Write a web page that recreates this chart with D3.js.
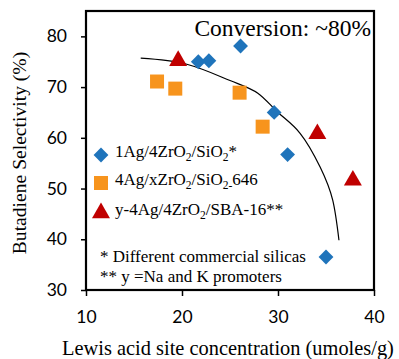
<!DOCTYPE html>
<html>
<head>
<meta charset="utf-8">
<script src="https://cdn.jsdelivr.net/npm/d3@7"></script>
<style>
  body { margin: 0; background: #fff; }
  svg { display: block; }
  .serif { font-family: 'Liberation Serif', 'Times New Roman', Times, 'DejaVu Serif', serif; }
  .tick text { font-family: Lato, 'Open Sans', sans-serif; }
</style>
</head>
<body>
<div id="chart"></div>
<script>
// series
const agZrSi = [ [21.7, 75.0], [22.8, 75.2], [26.1, 78.1], [29.6, 65.0], [31.0, 56.7], [35.0, 36.5] ]
const agXZr646 = [ [17.4, 71.1], [19.3, 69.7], [26.0, 68.9], [28.4, 62.2] ]
const agSba16 = [ [19.6, 75.2], [34.1, 60.8], [37.8, 51.6] ]
const trendLine = [ [15.7, 75.7], [20.5, 74.5], [25.0, 71.3], [27.9, 68.8], [30.0, 65.0], [32.3, 60.9], [34.4, 54.2], [35.7, 47.7], [36.35, 39.8] ]
const xTicks = [10, 20, 30, 40]
const yTicks = [30, 40, 50, 60, 70, 80]

const width = 399, height = 359
const margin = { left: 86, top: 11, right: 25, bottom: 69 }

const svg = d3.select('#chart').append('svg')
  .attr('width', width)
  .attr('height', height)

const x = d3.scaleLinear().domain([10, 40]).range([margin.left, width - margin.right])
const y = d3.scaleLinear().domain([30, 85]).range([height - margin.bottom, margin.top])

// axes
const xAxis = svg.append('g')
  .attr('transform', `translate(0,${y(30)})`)
  .call(d3.axisBottom(x).tickValues(xTicks).tickSize(6).tickPadding(15))
xAxis.select('.domain').remove()
xAxis.selectAll('line').attr('stroke', '#000').attr('stroke-width', 1.5)
xAxis.selectAll('text').attr('font-size', 17.5).attr('fill', '#000')

const yAxis = svg.append('g')
  .attr('transform', `translate(${x(10)},0)`)
  .call(d3.axisLeft(y).tickValues(yTicks).tickSize(5).tickPadding(14))
yAxis.select('.domain').remove()
yAxis.selectAll('line').attr('stroke', '#000').attr('stroke-width', 1.5)
yAxis.selectAll('text').attr('font-size', 17.5).attr('fill', '#000')

// frame
svg.append('rect')
  .attr('x', x(10)).attr('y', y(85))
  .attr('width', x(40) - x(10)).attr('height', y(30) - y(85))
  .attr('fill', 'none').attr('stroke', '#000').attr('stroke-width', 2.2)

// trend curve
svg.append('path')
  .datum(trendLine)
  .attr('d', d3.line().x(d => x(d[0])).y(d => y(d[1])).curve(d3.curveNatural))
  .attr('fill', 'none').attr('stroke', '#000').attr('stroke-width', 1.2)

const diamond = d3.symbol().type(d3.symbolSquare).size(110)
const square = d3.symbol().type(d3.symbolSquare).size(196)
const triangle = d3.symbol().type(d3.symbolTriangle).size(140)

function drawSeries(data, sym, color, rotate) {
  svg.append('g').selectAll('path')
    .data(data)
    .join('path')
      .attr('d', sym)
      .attr('fill', color)
      .attr('transform', d => `translate(${x(d[0])},${y(d[1])})` + (rotate ? ' rotate(45)' : ''))
}

drawSeries(agXZr646, square, '#f7941d', false)
drawSeries(agZrSi, diamond, '#1f74bb', true)
drawSeries(agSba16, triangle, '#c00000', false)

// title
svg.append('text')
  .attr('class', 'serif')
  .attr('x', 371).attr('y', 36)
  .attr('text-anchor', 'end')
  .attr('font-size', 23.5)
  .text('Conversion: ~80%')

// legend
const legend = [
  { sym: diamond, color: '#1f74bb', rot: true, cy: 155, parts: ['1Ag/4ZrO', ['2'], '/SiO', ['2'], '*'] },
  { sym: square, color: '#f7941d', rot: false, cy: 183, parts: ['4Ag/xZrO', ['2'], '/SiO', ['2-'], '646'] },
  { sym: triangle, color: '#c00000', rot: false, cy: 213, parts: ['y-4Ag/4ZrO', ['2'], '/SBA-16**'] },
]
legend.forEach(item => {
  svg.append('path')
    .attr('d', item.sym)
    .attr('fill', item.color)
    .attr('transform', `translate(101,${item.cy})` + (item.rot ? ' rotate(45)' : ''))
  const t = svg.append('text')
    .attr('class', 'serif')
    .attr('x', 115).attr('y', item.cy + 6)
    .attr('font-size', 17)
  item.parts.forEach(p => {
    if (Array.isArray(p)) {
      t.append('tspan').attr('dy', 4).attr('font-size', 11.5).text(p[0])
    } else {
      t.append('tspan').attr('dy', t.selectAll('tspan').size() ? -4 : 0).text(p)
    }
  })
})

svg.append('text')
  .attr('class', 'serif')
  .attr('x', 100).attr('y', 262)
  .attr('font-size', 17)
  .text('* Different commercial silicas')
svg.append('text')
  .attr('class', 'serif')
  .attr('x', 100).attr('y', 282)
  .attr('font-size', 17)
  .text('** y =Na and K promoters')

// axis titles
svg.append('text')
  .attr('class', 'serif')
  .attr('x', 228).attr('y', 355)
  .attr('text-anchor', 'middle')
  .attr('font-size', 20.4)
  .text('Lewis acid site concentration (umoles/g)')

svg.append('text')
  .attr('class', 'serif')
  .attr('transform', `translate(26,153) rotate(-90)`)
  .attr('text-anchor', 'middle')
  .attr('font-size', 19.6)
  .text('Butadiene Selectivity (%)')
</script>
</body>
</html>
